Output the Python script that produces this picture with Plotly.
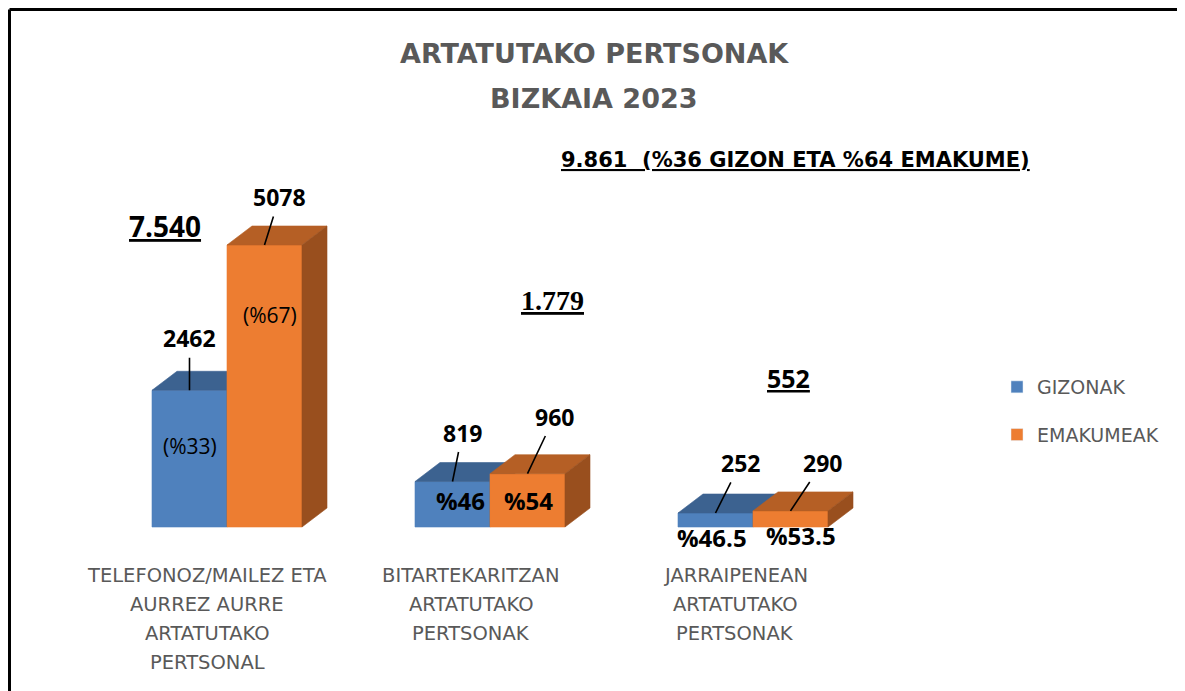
import plotly.graph_objects as go

# ---------------- data ----------------
categories = [
    "TELEFONOZ/MAILEZ ETA<br>AURREZ AURRE<br>ARTATUTAKO<br>PERTSONAL",
    "BITARTEKARITZAN<br>ARTATUTAKO<br>PERTSONAK",
    "JARRAIPENEAN<br>ARTATUTAKO<br>PERTSONAK",
]
series_names = ["GIZONAK", "EMAKUMEAK"]
gizonak = [2462, 819, 252]
emakumeak = [5078, 960, 290]
totals = ["7.540", "1.779", "552"]
pct_gizon = ["(%33)", "%46", "%46.5"]
pct_emakume = ["(%67)", "%54", "%53.5"]
summary = "9.861  (%36 GIZON ETA %64 EMAKUME)"
title_lines = ["ARTATUTAKO PERTSONAK", "BIZKAIA 2023"]

# ---------------- layout constants ----------------
OFF = 8                  # page body margin of the html page
FW, FH = 1185 - OFF, 691 - OFF
CAT_PX = 263.0           # pixels between categories
X0_PX = 227.0 - OFF      # figure pixel of first category centre
BASE_PX = 527.0 - OFF    # figure pixel of the value 0 baseline
UNITS_PER_PX = 5078 / 282.0
BW = 75 / CAT_PX         # bar width (x units)
DX = 25 / CAT_PX         # 3D depth offset x
DY = 19 * UNITS_PER_PX   # 3D depth offset y

xrange_ = [-X0_PX / CAT_PX, (FW - X0_PX) / CAT_PX]
yrange_ = [-(FH - BASE_PX) * UNITS_PER_PX, BASE_PX * UNITS_PER_PX]

GRAY = "#595959"
NUMFONT = "Open Sans"
TXTFONT = "DejaVu Sans"
colors = [
    dict(front="#4F81BD", top="#3C6290", side="#345781"),
    dict(front="#ED7D31", top="#B55F25", side="#994F1E"),
]


def px(xp):   # page pixel -> paper x
    return (xp - OFF) / FW


def py(yp):   # page pixel -> paper y
    return 1 - (yp - OFF) / FH


fig = go.Figure()


def poly(pts, color):
    xs = [p[0] for p in pts] + [pts[0][0]]
    ys = [p[1] for p in pts] + [pts[0][1]]
    fig.add_trace(go.Scatter(x=xs, y=ys, mode="lines", fill="toself",
                             fillcolor=color, line=dict(width=0.6, color=color),
                             hoverinfo="skip", showlegend=False))


for i in range(len(categories)):
    for s, vals in enumerate([gizonak, emakumeak]):
        v = vals[i]
        x0 = i - BW if s == 0 else i
        x1 = x0 + BW
        c = colors[s]
        poly([(x0, 0), (x1, 0), (x1, v), (x0, v)], c["front"])
        poly([(x0, v), (x1, v), (x1 + DX, v + DY), (x0 + DX, v + DY)], c["top"])
        poly([(x1, 0), (x1 + DX, DY), (x1 + DX, v + DY), (x1, v)], c["side"])

# legend entries
for s, name in enumerate(series_names):
    fig.add_trace(go.Bar(x=[None], y=[None], name=name, legendgroup=name,
                         marker_color=colors[s]["front"]))

ann = []


def text_at(t, xp, yp, family, size, color="black"):
    ann.append(dict(text=t, x=px(xp), y=py(yp), xref="paper", yref="paper",
                    xanchor="center", yanchor="middle", showarrow=False,
                    font=dict(family=family, size=size, color=color)))


# titles
for t, yy in zip(title_lines, [54, 98]):
    text_at(f"<b>{t}</b>", 594, yy, TXTFONT, 27, GRAY)
# summary
text_at(f"<b><u>{summary}</u></b>", 795, 160, TXTFONT, 21)
# totals
tot_pos = [(165, 226), (552, 300), (788, 378)]
tot_font = [(NUMFONT, 28), ("Liberation Serif", 28), (NUMFONT, 25)]
for t, (xp, yp), (fam, sz) in zip(totals, tot_pos, tot_font):
    text_at(f"<b><u>{t}</u></b>", xp, yp, fam, sz)

# value labels with leader lines
offs_g = [(0, -52), (10, -49), (25, -50)]
offs_e = [(15, -48), (27, -57), (32, -48)]
for i in range(len(categories)):
    for s, vals, offs in [(0, gizonak, offs_g), (1, emakumeak, offs_e)]:
        xc = i - BW / 2 if s == 0 else i + BW / 2
        ann.append(dict(text=f"<b>{vals[i]}</b>", x=xc, y=vals[i], xref="x", yref="y",
                        xanchor="center", yanchor="middle",
                        showarrow=True, arrowhead=0, arrowwidth=1.6, arrowcolor="black",
                        ax=offs[i][0], ay=offs[i][1], standoff=0, startstandoff=2,
                        font=dict(family=NUMFONT, size=23, color="black")))

# percentage labels
pg_pos = [(190, 446), (460, 500), (712, 537)]
pe_pos = [(270, 315), (528, 500), (801, 535)]
for i in range(len(categories)):
    for txt, (xp, yp) in [(pct_gizon[i], pg_pos[i]), (pct_emakume[i], pe_pos[i])]:
        if i == 0:
            text_at(txt, xp, yp, NUMFONT, 21)
        else:
            text_at(f"<b>{txt}</b>", xp, yp, NUMFONT, 24)

# category labels (one annotation per line for Excel-like line spacing)
cat_cx = [207, 471, 735]
for i, cat in enumerate(categories):
    for j, line in enumerate(cat.split("<br>")):
        text_at(line, cat_cx[i], 575 + 29 * j, TXTFONT, 19.5, GRAY)

shapes = [
    dict(type="line", xref="paper", yref="paper", x0=1.5 / FW, x1=1.0,
         y0=1 - 1.5 / FH, y1=1 - 1.5 / FH, line=dict(color="black", width=3)),
    dict(type="line", xref="paper", yref="paper", x0=1.5 / FW, x1=1.5 / FW,
         y0=1 - 1.5 / FH, y1=0, line=dict(color="black", width=3)),
]

fig.update_layout(
    width=FW, height=FH,
    margin=dict(l=0, r=0, t=0, b=0),
    paper_bgcolor="white", plot_bgcolor="white",
    xaxis=dict(range=xrange_, visible=False, fixedrange=True),
    yaxis=dict(range=yrange_, visible=False, fixedrange=True),
    showlegend=True,
    legend=dict(x=px(997), y=py(368), xanchor="left", yanchor="top",
                font=dict(family=TXTFONT, size=19, color=GRAY),
                tracegroupgap=20, bgcolor="rgba(0,0,0,0)"),
    annotations=ann,
    shapes=shapes,
)

fig.write_html("out.html")
